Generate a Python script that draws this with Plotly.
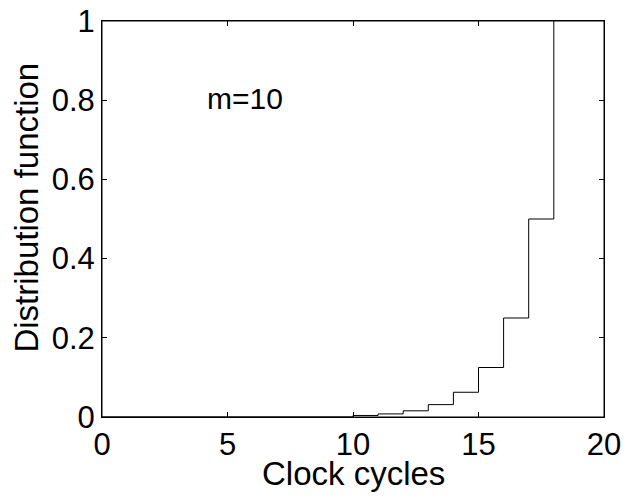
import plotly.graph_objects as go

# Data: step distribution function (stairs), m=10
cycles = [0, 10, 11, 12, 13, 14, 15, 16, 17, 18]
dist = [0.0, 0.0039, 0.0078, 0.0156, 0.03125, 0.0625, 0.125, 0.25, 0.5, 1.0]
x_ticks = [0, 5, 10, 15, 20]
y_ticks = [0, 0.2, 0.4, 0.6, 0.8, 1]
y_tick_labels = ["0", "0.2", "0.4", "0.6", "0.8", "1"]

FONT = "Liberation Sans, Arial, sans-serif"

fig = go.Figure()
fig.add_trace(go.Scatter(
    x=cycles, y=dist, mode="lines", line=dict(shape="hv", color="black", width=1),
    showlegend=False, hoverinfo="skip",
))

fig.add_annotation(x=5.7, y=0.805, xref="x", yref="y", text="m=10", showarrow=False,
                   font=dict(size=30, color="black", family=FONT))

# axis titles
fig.add_annotation(x=0.5, y=-0.142, xref="paper", yref="paper", text="Clock cycles",
                   showarrow=False, xanchor="center", yanchor="middle",
                   font=dict(size=33, color="black", family=FONT))
fig.add_annotation(x=-0.15, y=0.528, xref="paper", yref="paper", text="Distribution function",
                   showarrow=False, xanchor="center", yanchor="middle", textangle=-90,
                   font=dict(size=33, color="black", family=FONT))

# frame round the plot area
fig.add_shape(type="rect", xref="paper", yref="paper", x0=0, x1=1, y0=0, y1=1,
              line=dict(color="black", width=1), layer="above")

axis_common = dict(
    showline=True, linecolor="black", linewidth=1, mirror="ticks",
    ticks="inside", ticklen=5, tickcolor="black", tickwidth=1,
    showgrid=False, zeroline=False, automargin=False, ticklabeloverflow="allow",
    tickfont=dict(size=31, color="black", family=FONT),
)

fig.update_xaxes(range=[0, 20], tickvals=x_ticks, ticktext=[str(v) for v in x_ticks], **axis_common)
fig.update_yaxes(range=[0, 1], tickvals=y_ticks, ticktext=y_tick_labels, **axis_common)

# top ticks (mirror of x axis)
fig.update_layout(xaxis2=dict(overlaying="x", side="top", range=[0, 20], tickvals=x_ticks,
                              showticklabels=False, ticks="inside", ticklen=5, tickcolor="black",
                              tickwidth=1, showgrid=False, zeroline=False, showline=True,
                              linecolor="black", linewidth=1, automargin=False))
fig.add_trace(go.Scatter(x=[None], y=[None], xaxis="x2", showlegend=False, hoverinfo="skip"))

fig.update_layout(
    width=623, height=486,
    margin=dict(l=94, r=27, t=13, b=77),
    paper_bgcolor="white", plot_bgcolor="white",
    font=dict(family=FONT, color="black"),
)

fig.write_html("out.html")
